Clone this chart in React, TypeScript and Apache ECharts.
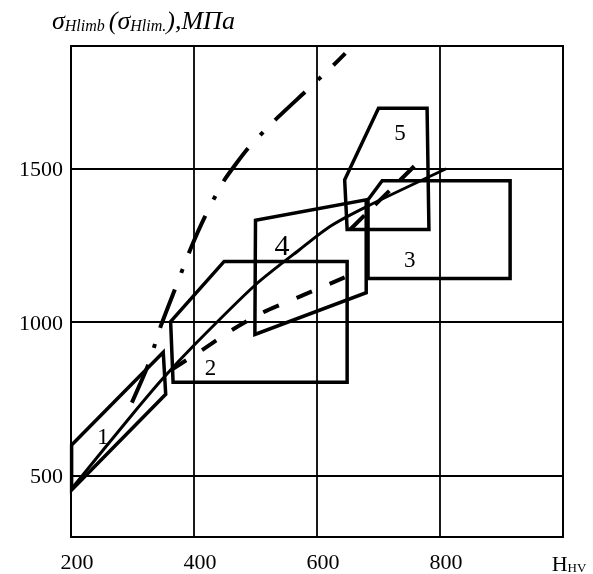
import React, { useEffect, useRef } from "react";
import * as echarts from "echarts";

const FONT = "'Liberation Serif', 'Times New Roman', serif";

// Zones (polygons), [HV, MPa]
const zone1 = [[201, 600], [350, 902], [354, 765], [201, 453]];
const zone2 = [[362, 1002], [366, 804], [649, 804], [649, 1198], [449, 1198]];
const zone3 = [[706, 1461], [914, 1461], [914, 1142], [683, 1142], [683, 1399]];
const zone4 = [[500, 1332], [499, 960], [680, 1096], [680, 1399]];
const zone5 = [[700, 1697], [779, 1697], [782, 1302], [649, 1302], [645, 1464]];

// Curves
const solidCurve = [[200, 455], [300, 700], [350, 818], [400, 925], [500, 1122], [572, 1237], [621, 1312], [680, 1376], [810, 1500]];
const dashedLow = [[364, 846], [410, 905], [458, 970], [512, 1032], [569, 1081], [645, 1146]];
const dashedHigh = [[654, 1302], [762, 1516]];
const dashDot = [[299, 738], [326, 863], [345, 982], [369, 1107], [394, 1237], [418, 1345], [448, 1459], [488, 1567], [532, 1659], [581, 1751], [627, 1838], [646, 1876]];

// Zone labels
const zoneLabelNames = ["1", "2", "3", "4", "5"];
const zoneLabelPos = [[252, 629], [427, 852], [751, 1204], [543, 1253], [735, 1618]];
const zoneLabelSizes = [23, 23, 23, 30, 23];

// Axes
const xMin = 200, xMax = 1000, xStep = 200;
const yMin = 300, yMax = 1900;
const xGridLines = [400, 600, 800];
const yGridLines = [500, 1000, 1500];

function closed(pts: number[][]) {
  return [...pts, pts[0], pts[1]];
}

export default function App() {
  const ref = useRef<HTMLDivElement>(null);
  useEffect(() => {
    if (!ref.current) return;
    const chart = echarts.init(ref.current, null, { renderer: "svg" });
    const black = "#000";
    const zoneSeries = [zone1, zone2, zone3, zone4, zone5].map((z, i) => ({
      type: "line",
      data: closed(z),
      symbol: "none",
      silent: true,
      z: 3,
      lineStyle: { color: black, width: 3.5, join: "miter" },
      ...(i === 0
        ? {
            markLine: {
              silent: true,
              symbol: ["none", "none"],
              label: { show: false },
              lineStyle: { color: black, width: 1.8, type: "solid" },
              data: [
                ...xGridLines.map((v) => ({ xAxis: v })),
                ...yGridLines.map((v) => ({ yAxis: v })),
              ],
            },
          }
        : {}),
    }));
    chart.setOption({
      animation: false,
      title: {
        left: 52,
        top: 5,
        padding: 0,
        text: "{a|σ}{b|Hlimb\u00a0}{a|(σ}{b|Hlim.}{a|),МПа}",
        textStyle: {
          fontWeight: "normal",
          rich: {
            a: { fontFamily: FONT, fontStyle: "italic", fontWeight: "normal", fontSize: 26, lineHeight: 28, verticalAlign: "bottom", color: black },
            b: { fontFamily: FONT, fontStyle: "italic", fontWeight: "normal", fontSize: 16, lineHeight: 13, verticalAlign: "bottom", color: black },
          },
        },
      },
      grid: { left: 71, right: 30, top: 46, bottom: 36, show: true, borderColor: black, borderWidth: 2 },
      xAxis: {
        type: "value",
        min: xMin,
        max: xMax,
        interval: xStep,
        axisLine: { show: true, lineStyle: { color: black, width: 2 } },
        axisTick: { show: false },
        splitLine: { show: false },
        axisLabel: {
          show: true,
          showMinLabel: true,
          showMaxLabel: true,
          margin: 13,
          padding: [0, 0, 0, 12],
          color: black,
          fontFamily: FONT,
          fontSize: 22,
          formatter: (v: number) => (v === xMax ? "{h|H}{s|HV}" : String(v)),
          rich: {
            h: { fontFamily: FONT, fontSize: 22, lineHeight: 24, verticalAlign: "bottom", color: black },
            s: { fontFamily: FONT, fontSize: 13, lineHeight: 12, verticalAlign: "bottom", color: black },
          },
        },
      },
      yAxis: {
        type: "value",
        min: yMin,
        max: yMax,
        interval: 100,
        axisLine: { show: true, lineStyle: { color: black, width: 2 } },
        axisTick: { show: false },
        splitLine: { show: false },
        axisLabel: {
          margin: 8,
          color: black,
          fontFamily: FONT,
          fontSize: 22,
          formatter: (v: number) => (yGridLines.includes(v) ? String(v) : ""),
        },
      },
      series: [
        ...zoneSeries,
        {
          type: "line",
          data: solidCurve,
          symbol: "none",
          smooth: 0.25,
          silent: true,
          z: 4,
          lineStyle: { color: black, width: 3 },
        },
        {
          type: "line",
          data: dashedLow,
          symbol: "none",
          smooth: 0.2,
          silent: true,
          z: 4,
          lineStyle: { color: black, width: 4, type: [17, 19], cap: "butt" },
        },
        {
          type: "line",
          data: dashedHigh,
          symbol: "none",
          silent: true,
          z: 4,
          lineStyle: { color: black, width: 4, type: [20, 15], cap: "butt" },
        },
        {
          type: "line",
          data: dashDot,
          symbol: "none",
          smooth: 0.2,
          silent: true,
          z: 4,
          lineStyle: { color: black, width: 4, type: [41, 18, 4, 17], cap: "butt" },
        },
        {
          type: "scatter",
          symbol: "rect",
          symbolSize: 1,
          silent: true,
          z: 5,
          itemStyle: { color: "rgba(0,0,0,0)" },
          data: zoneLabelNames.map((n, i) => ({
            name: n,
            value: zoneLabelPos[i],
            label: { fontSize: zoneLabelSizes[i] },
          })),
          label: {
            show: true,
            position: "inside",
            formatter: "{b}",
            color: "#000",
            opacity: 1,
            textBorderWidth: 0,
            fontWeight: "normal",
            fontFamily: FONT,
          },
        },
      ],
    });
    return () => chart.dispose();
  }, []);
  return <div ref={ref} style={{ position: "fixed", left: 0, top: 0, width: 593, height: 574 }} />;
}
